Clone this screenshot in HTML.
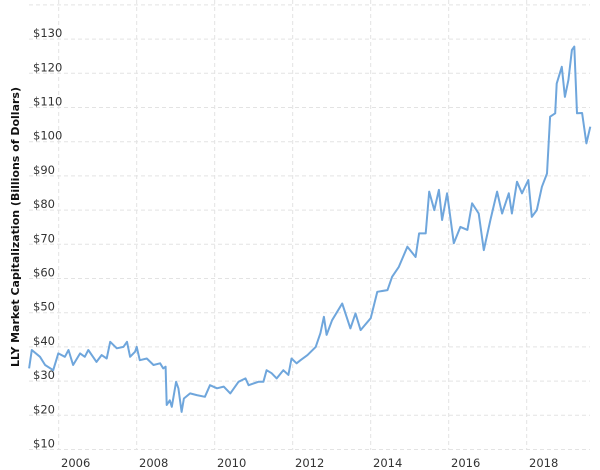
<!DOCTYPE html>
<html><head><meta charset="utf-8"><style>
html,body{margin:0;padding:0;background:#fff;}
svg{display:block;font-family:"DejaVu Sans","Liberation Sans",sans-serif;}
</style></head><body>
<svg id="chart" width="600" height="470">
<g id="grid"></g>
<g id="yticks"></g>
<g id="xticks"></g>
<text transform="translate(19,227) rotate(-90)" text-anchor="middle" font-size="11" font-weight="bold" fill="#111">LLY Market Capitalization (Billions of Dollars)</text>
<path id="series" fill="none" stroke="#6fa6dc" stroke-width="2" stroke-linejoin="round"></path>
</svg>
<script>
const years=[2005.24,2005.31,2005.52,2005.65,2005.86,2005.99,2006.16,2006.25,2006.37,2006.55,2006.67,2006.76,2006.97,2007.1,2007.23,2007.32,2007.49,2007.66,2007.75,2007.83,2007.96,2008.0,2008.08,2008.26,2008.43,2008.6,2008.68,2008.74,2008.77,2008.85,2008.9,2009.01,2009.07,2009.15,2009.21,2009.37,2009.54,2009.75,2009.88,2010.06,2010.23,2010.4,2010.61,2010.79,2010.87,2011.12,2011.25,2011.33,2011.46,2011.59,2011.76,2011.89,2011.97,2012.1,2012.2,2012.38,2012.59,2012.71,2012.8,2012.87,2013.01,2013.27,2013.48,2013.61,2013.74,2014.0,2014.17,2014.43,2014.55,2014.72,2014.94,2015.15,2015.24,2015.41,2015.5,2015.63,2015.75,2015.83,2015.96,2016.13,2016.3,2016.48,2016.6,2016.77,2016.9,2017.07,2017.24,2017.37,2017.54,2017.62,2017.75,2017.88,2018.04,2018.13,2018.26,2018.39,2018.52,2018.6,2018.73,2018.77,2018.9,2018.98,2019.07,2019.16,2019.22,2019.29,2019.42,2019.53,2019.63];
const values=[33.7,39.1,37.1,34.7,33.2,38.1,37.1,39.1,34.7,38.1,37.1,39.1,35.6,37.6,36.6,41.5,39.6,40,41.5,37.1,38.6,40,36.1,36.6,34.7,35.2,33.7,34.2,23,24.4,22.5,29.8,27.9,21,24.9,26.4,25.9,25.4,28.8,27.9,28.4,26.4,29.8,30.8,28.8,29.8,29.8,33.2,32.3,30.8,33.2,31.8,36.6,35.2,36.1,37.6,40,44,48.8,43.5,47.8,52.7,45.4,49.8,44.9,48.4,56.1,56.6,60.5,63.4,69.3,66.3,73.2,73.2,85.4,80,85.9,77.1,84.9,70.3,75.1,74.2,82,79,68.3,77.1,85.4,79,84.9,79,88.3,84.9,88.8,78,80,86.8,90.7,107.3,108.3,117,121.9,113.1,118,126.8,127.8,108.3,108.4,99.5,104.4];
const yTicks=[10,20,30,40,50,60,70,80,90,100,110,120,130];
const xTickYears=[2006,2008,2010,2012,2014,2016,2018];
const NS="http://www.w3.org/2000/svg";
const X0=29,X1=590;
function xs(y){return 58.7+(y-2006)*39;}
function ys(v){return 449.5-(v-10)*3.42;}
const grid=document.getElementById('grid'),yt=document.getElementById('yticks'),xt=document.getElementById('xticks');
function line(x1,y1,x2,y2){const l=document.createElementNS(NS,'line');l.setAttribute('x1',x1);l.setAttribute('y1',y1);l.setAttribute('x2',x2);l.setAttribute('y2',y2);l.setAttribute('stroke','#e3e3e3');l.setAttribute('stroke-dasharray','4,3');


grid.appendChild(l);}
[...yTicks,140].forEach(v=>line(X0,ys(v),X1,ys(v)));
xTickYears.forEach(y=>line(xs(y),0,xs(y),450));
yTicks.forEach(v=>{const t=document.createElementNS(NS,'text');t.setAttribute('x',33);t.setAttribute('y',ys(v)-2);t.setAttribute('font-size','11.5');t.setAttribute('fill','#333');t.textContent='$'+v;


yt.appendChild(t);});
xTickYears.forEach(y=>{const t=document.createElementNS(NS,'text');t.setAttribute('x',xs(y)+17);t.setAttribute('y',467);t.setAttribute('text-anchor','middle');t.setAttribute('font-size','11.5');t.setAttribute('fill','#333');t.textContent=y;


xt.appendChild(t);});
document.getElementById('series').setAttribute('d',years.map((y,i)=>(i?'L':'M')+xs(y).toFixed(1)+','+ys(values[i]).toFixed(1)).join(''));
</script>
</body></html>
